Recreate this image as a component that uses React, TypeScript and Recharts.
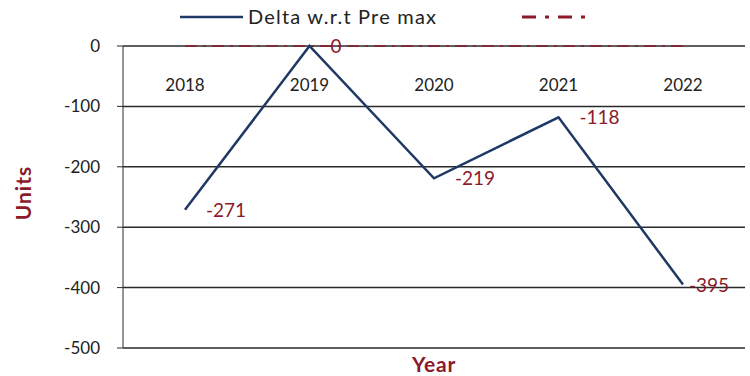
import { LineChart, Line, XAxis, YAxis, CartesianGrid, Legend, LabelList } from "recharts"

const years = ["2018", "2019", "2020", "2021", "2022"]
const delta = [-271, 0, -219, -118, -395]
const preMax = [0, 0, 0, 0, 0]
const yTicks = [0, -100, -200, -300, -400, -500]

const data = years.map((year, i) => ({ year, delta: delta[i], preMax: preMax[i] }))

const font = "Lato, 'Open Sans', sans-serif"
const navy = "#1f3864"
const darkRed = "#8b1a2b"

function TopTick(props: any) {
  const { x, payload } = props
  return (
    <text x={x} y={91} textAnchor="middle" fontSize={17} fill="#222" fontFamily={font}>
      {payload.value}
    </text>
  )
}

function ValueLabel(props: any) {
  const { x, y, value, index } = props
  const dx = index === 4 ? 6 : 21
  return (
    <text x={x + dx} y={y + 7} fontSize={19} fill={darkRed} fontFamily={font}>
      {value}
    </text>
  )
}

function LegendBox() {
  return (
    <svg width={750} height={30} style={{ display: "block" }}>
      <line x1={180} x2={243} y1={17} y2={17} stroke={navy} strokeWidth={2.5} />
      <text x={248} y={24} fontSize={20} letterSpacing={1.2} fill="#222" fontFamily={font}>
        Delta w.r.t Pre max
      </text>
      <line x1={522} x2={585} y1={17} y2={17} stroke={darkRed} strokeWidth={3} strokeDasharray="14 9 4 9" />
    </svg>
  )
}

export default function App() {
  return (
    <div style={{ position: "absolute", left: 0, top: 0, background: "#fff" }}>
      <LineChart width={750} height={376} data={data} margin={{ top: 0, right: 5, bottom: 0, left: 0 }}>
        <Legend verticalAlign="top" align="left" content={() => <LegendBox />} wrapperStyle={{ left: 0, top: 0 }} />
        <CartesianGrid vertical={false} stroke="#2a2a2a" strokeWidth={1.5} />
        <XAxis
          dataKey="year"
          orientation="top"
          height={16}
          axisLine={false}
          tickLine={false}
          padding={{ left: 62, right: 62 }}
          tick={<TopTick />}
        />
        <XAxis
          xAxisId="b"
          dataKey="year"
          orientation="bottom"
          height={28}
          axisLine={false}
          tickLine={false}
          tick={false}
          padding={{ left: 62, right: 62 }}
          label={(p: any) => (
            <text
              x={p.viewBox.x + p.viewBox.width / 2}
              y={p.viewBox.y + 24}
              textAnchor="middle"
              fontSize={21}
              letterSpacing={0.8}
              fontWeight="bold"
              fill={darkRed}
              fontFamily={font}
            >
              Year
            </text>
          )}
        />
        <YAxis
          width={123}
          domain={[-500, 0]}
          ticks={yTicks}
          interval={0}
          stroke="#2a2a2a"
          tickSize={6}
          tickMargin={17}
          tick={{ fontSize: 17, fill: "#222", fontFamily: font }}
          label={(p: any) => (
            <text
              x={22}
              y={p.viewBox.y + p.viewBox.height / 2 - 4}
              transform={`rotate(-90 22 ${p.viewBox.y + p.viewBox.height / 2 - 4})`}
              textAnchor="middle"
              dominantBaseline="central"
              fontSize={21}
              letterSpacing={1}
              fontWeight="bold"
              fill={darkRed}
              fontFamily={font}
            >
              Units
            </text>
          )}
        />
        <Line
          dataKey="preMax"
          stroke={darkRed}
          strokeWidth={1.5}
          strokeDasharray="12 6 3 6"
          dot={false}
          isAnimationActive={false}
        />
        <Line dataKey="delta" stroke={navy} strokeWidth={2.5} dot={false} isAnimationActive={false}>
          <LabelList dataKey="delta" content={<ValueLabel />} />
        </Line>
      </LineChart>
    </div>
  )
}
